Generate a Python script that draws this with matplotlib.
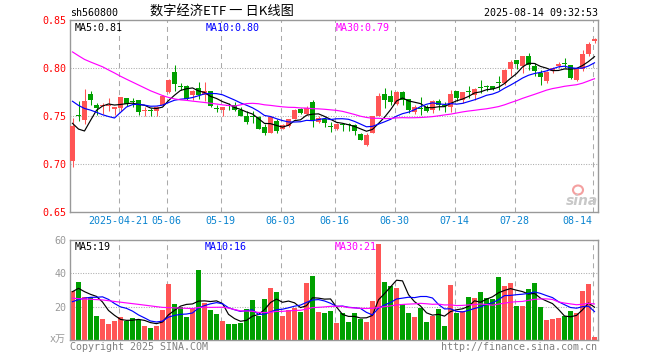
import numpy as np
import pandas as pd
import matplotlib
matplotlib.use('Agg')
import matplotlib.pyplot as plt
from matplotlib.patches import Ellipse

plt.rcParams['lines.scale_dashes'] = False

# ---------------- data ----------------
open_ = [0.703, 0.751, 0.7455, 0.773, 0.7615, 0.760, 0.760, 0.757, 0.758, 0.769,
         0.765, 0.7663, 0.755, 0.756, 0.7549, 0.7608, 0.775, 0.7958, 0.781, 0.7816,
         0.7722, 0.7792, 0.7722, 0.7764, 0.7575, 0.7559, 0.761, 0.7615, 0.7566, 0.7503,
         0.7492, 0.749, 0.7382, 0.7316, 0.7444, 0.7365, 0.7392, 0.7469, 0.7573, 0.7524,
         0.7642, 0.7434, 0.747, 0.7385, 0.7358, 0.741, 0.7417, 0.740, 0.7306, 0.7201,
         0.7316, 0.7503, 0.7733, 0.7712, 0.7628, 0.7753, 0.7677, 0.7538, 0.7576, 0.7594,
         0.7559, 0.7653, 0.7603, 0.7594, 0.7757, 0.7663, 0.775, 0.7722, 0.7793, 0.7803,
         0.7816, 0.7845, 0.7844, 0.799, 0.8087, 0.8024, 0.8128, 0.8024, 0.7948, 0.7861,
         0.7965, 0.8024, 0.8047, 0.8035, 0.7872, 0.799, 0.8149, 0.8278]
high = [0.748, 0.765, 0.778, 0.776, 0.7635, 0.763, 0.769, 0.7594, 0.770, 0.769,
        0.769, 0.767, 0.759, 0.758, 0.760, 0.7722, 0.788, 0.8035, 0.7844, 0.7827,
        0.7774, 0.785, 0.785, 0.7764, 0.7608, 0.7594, 0.7635, 0.7642, 0.7594, 0.7549,
        0.7549, 0.7503, 0.741, 0.7503, 0.7462, 0.742, 0.7469, 0.7573, 0.7583, 0.760,
        0.7663, 0.7503, 0.749, 0.7434, 0.7427, 0.7427, 0.7427, 0.742, 0.7323, 0.7316,
        0.7503, 0.774, 0.7792, 0.7774, 0.7757, 0.7757, 0.7677, 0.7608, 0.7698, 0.7608,
        0.7663, 0.7677, 0.7642, 0.7767, 0.7757, 0.7747, 0.7816, 0.7788, 0.7878, 0.7827,
        0.7816, 0.792, 0.799, 0.8087, 0.8087, 0.8128, 0.8156, 0.8052, 0.7983, 0.7965,
        0.801, 0.8059, 0.8104, 0.8035, 0.799, 0.8184, 0.8267, 0.8312]
low = [0.697, 0.745, 0.741, 0.761, 0.7514, 0.752, 0.755, 0.751, 0.755, 0.760,
       0.759, 0.7514, 0.7496, 0.7496, 0.7496, 0.760, 0.774, 0.7757, 0.7774, 0.767,
       0.767, 0.7677, 0.7653, 0.7594, 0.7538, 0.7496, 0.7559, 0.7549, 0.7496, 0.741,
       0.7427, 0.7358, 0.7295, 0.7316, 0.7316, 0.7358, 0.7385, 0.7462, 0.7524, 0.7514,
       0.7382, 0.7427, 0.7382, 0.733, 0.735, 0.734, 0.734, 0.7295, 0.7246, 0.7184,
       0.7316, 0.7496, 0.7583, 0.7618, 0.7618, 0.7618, 0.7531, 0.7524, 0.7514, 0.7538,
       0.7531, 0.7559, 0.7538, 0.7538, 0.7653, 0.7629, 0.7688, 0.7663, 0.774, 0.7757,
       0.7767, 0.7774, 0.7826, 0.7913, 0.799, 0.7948, 0.7983, 0.7913, 0.7826, 0.7844,
       0.7948, 0.7996, 0.7996, 0.7885, 0.7861, 0.7965, 0.8122, 0.826]
close = [0.739, 0.750, 0.765, 0.767, 0.758, 0.761, 0.761, 0.7594, 0.770, 0.762,
         0.764, 0.7538, 0.7556, 0.7555, 0.7594, 0.7712, 0.7878, 0.7837, 0.7805, 0.768,
         0.7757, 0.7722, 0.7757, 0.760, 0.757, 0.7594, 0.7605, 0.7566, 0.7503, 0.7434,
         0.7488, 0.7365, 0.7316, 0.749, 0.734, 0.740, 0.7462, 0.7559, 0.7531, 0.758,
         0.7455, 0.7479, 0.7427, 0.738, 0.742, 0.7406, 0.7403, 0.734, 0.7253, 0.7295,
         0.7503, 0.7712, 0.7663, 0.7642, 0.7753, 0.7663, 0.7559, 0.7594, 0.757, 0.7549,
         0.7653, 0.7608, 0.760, 0.7733, 0.7688, 0.7747, 0.7745, 0.7781, 0.779, 0.780,
         0.7781, 0.784, 0.7976, 0.8059, 0.8045, 0.8128, 0.8035, 0.7965, 0.7906, 0.7955,
         0.7996, 0.8045, 0.8045, 0.7896, 0.799, 0.8149, 0.8253, 0.8302]
# closes of the 29 sessions before the first visible one (feed the moving averages)
prior_close = [0.870, 0.879, 0.848, 0.833, 0.836, 0.860, 0.855, 0.872, 0.855, 0.854,
               0.844, 0.846, 0.846, 0.834, 0.846, 0.848, 0.829, 0.811, 0.783, 0.800,
               0.793, 0.797, 0.784, 0.781, 0.786, 0.780, 0.775, 0.712, 0.705]

volume = [29.4, 35, 26, 26, 14.4, 12.6, 9.6, 11.4, 13.8, 11.6,
          13, 12, 8.4, 7.2, 8.4, 18, 33.6, 21.6, 20, 13.6,
          19.4, 42, 22.4, 18, 15.6, 11.4, 9.6, 9.6, 10, 18.4,
          24, 14.4, 24.4, 31.2, 28.8, 14.4, 18, 19.2, 16.8, 34.4,
          38.4, 16.8, 16.2, 17.4, 10.2, 16.2, 10.8, 16.2, 12.6, 10.8,
          23.4, 57.6, 34.8, 32.4, 31.2, 21.4, 16.2, 13.8, 19.4, 10.8,
          14.4, 18.6, 8.4, 33, 16.2, 17.4, 25.8, 25.2, 28.8, 25.2,
          24.6, 37.8, 32.4, 34.2, 20.4, 20.4, 30.6, 34.2, 19.8, 12,
          12.6, 13.2, 14.4, 17.4, 16.2, 29.4, 33.6, 1.8]
prior_volume = [41, 32, 32, 20, 19, 23, 25, 27, 25, 26,
                25, 22, 21, 22, 31, 38, 26, 24, 18, 24,
                23, 17, 21, 14, 10, 25, 36, 34, 20.6]

tick_idx = [8, 16, 25, 35, 44, 54, 64, 74, 87]
tick_labels = ['2025-04-21', '05-06', '05-19', '06-03', '06-16', '06-30',
               '07-14', '07-28', '08-14']

price_ticks = [0.65, 0.70, 0.75, 0.80, 0.85]
vol_ticks = [20, 40, 60]

title = '数字经济ETF 一 日K线图'
code = 'sh560800'
stamp = '2025-08-14 09:32:53'
price_ma_labels = ['MA5:0.81', 'MA10:0.80', 'MA30:0.79']
vol_ma_labels = ['MA5:19', 'MA10:16', 'MA30:21']

# ---------------- styling ----------------
RED = '#FF5555'
GREEN = '#00A000'
MA_COLORS = ['#000000', '#0000FF', '#FF00FF']
GRID = '#AAAAAA'
SPINE = '#999999'
MONO = 'DejaVu Sans Mono'
FS = 7.2

W, H = 660, 360
fig = plt.figure(figsize=(6.6, 3.6), dpi=100)
fig.patch.set_facecolor('white')


def fx(px):
    return px / W


def fy(py):
    return 1 - py / H


L, R = 70, 598
ax = fig.add_axes([fx(L), fy(211.7), (R - L) / W, (211.7 - 20) / H])
axv = fig.add_axes([fx(L), fy(340), (R - L) / W, 100 / H])

o = np.array(open_); h = np.array(high); lo = np.array(low); c = np.array(close)
v = np.array(volume)
n = len(c)
x = np.arange(n)
up = c >= o
cols = np.where(up, RED, GREEN)

xmin = -2.5 / 6
xmax = xmin + n
slot_start = np.array(tick_idx) + xmin + 0.1

for a in (ax, axv):
    a.set_xlim(xmin, xmax)
    for s in a.spines.values():
        s.set_color(SPINE)
        s.set_linewidth(1.0)
    for t in slot_start:
        a.axvline(t, color=GRID, lw=0.75, dashes=(3.6, 2.9), zorder=0)
    a.set_xticks([])
    a.tick_params(axis='y', length=0, pad=2.6, labelsize=FS)

# --- price panel ---
ax.set_ylim(0.65, 0.85)
for g in [0.70, 0.75, 0.80]:
    ax.axhline(g, color=GRID, lw=0.75, dashes=(0.72, 1.1), zorder=0)
ax.vlines(x, lo, h, colors=cols, lw=0.75, zorder=2)
body_b = np.minimum(o, c)
body_h = np.maximum(np.abs(c - o), 0.0011)
ax.bar(x, body_h, bottom=body_b, width=0.83, color=cols, linewidth=0, zorder=3)

all_c = pd.Series(np.concatenate([prior_close, c]))
k0 = len(prior_close)
for win, col in zip([5, 10, 30], MA_COLORS):
    ma = all_c.rolling(win).mean().values[k0:]
    ax.plot(x, ma, color=col, lw=0.85, zorder=4)

ax.set_yticks(price_ticks)
ax.set_yticklabels(['%.2f' % t for t in price_ticks], color='#FF0000', family=MONO)

for t, lab in zip(tick_idx, tick_labels):
    ha = 'center'
    xx = t + xmin + 0.1
    if t == tick_idx[-1]:
        ha = 'right'
        xx = t + xmin
    ax.text(xx, -0.048, lab, transform=ax.get_xaxis_transform(), ha=ha, va='center',
            color='#0A84D0', fontsize=FS, family=MONO, clip_on=False)

# --- volume panel ---
axv.set_ylim(0, 60)
for g in [20, 40]:
    axv.axhline(g, color=GRID, lw=0.75, dashes=(0.72, 1.1), zorder=0)
axv.bar(x, v, width=0.83, color=cols, linewidth=0, zorder=2)
all_v = pd.Series(np.concatenate([prior_volume, v]))
kv = len(prior_volume)
for win, col in zip([5, 10, 30], MA_COLORS):
    ma = all_v.rolling(win).mean().values[kv:]
    axv.plot(x, ma, color=col, lw=0.85, zorder=4)
axv.set_yticks(vol_ticks)
axv.set_yticklabels([str(t) for t in vol_ticks], color='#999999', family=MONO)
fig.text(fx(66), fy(339), 'x万', ha='right', va='center', color='#999999',
         fontsize=FS, family=['DejaVu Sans Mono', 'Noto Sans CJK SC'])

# --- header / legends ---
fig.text(fx(70), fy(12.5), code, ha='left', va='center', fontsize=FS, family=MONO)
fig.text(fx(150), fy(12.5), title, ha='left', va='center', fontsize=9.5,
         family=['Noto Sans CJK SC', 'DejaVu Sans'])
fig.text(fx(598), fy(12.5), stamp, ha='right', va='center', fontsize=FS, family=MONO)

for lab, col, px in zip(price_ma_labels, MA_COLORS, [75, 206, 336]):
    fig.text(fx(px), fy(28), lab, ha='left', va='center', color=col, fontsize=FS, family=MONO)
for lab, col, px in zip(vol_ma_labels, MA_COLORS, [75, 205, 335]):
    fig.text(fx(px), fy(246.5), lab, ha='left', va='center', color=col, fontsize=FS, family=MONO)

fig.text(fx(70), fy(347), 'Copyright 2025 SINA.COM', ha='left', va='center',
         color='#808080', fontsize=FS, family=MONO)
fig.text(fx(597), fy(347), 'http://finance.sina.com.cn', ha='right', va='center',
         color='#808080', fontsize=FS, family=MONO)

# sina watermark
fig.patches.append(Ellipse((fx(578), fy(190)), 10 / W, 9 / H, transform=fig.transFigure,
                           facecolor='none', edgecolor='#F4A0A0', lw=1.5))
fig.text(fx(582), fy(201), 'sina', ha='center', va='center', color='#C8C8C8',
         fontsize=10, fontweight='bold', style='italic', family='DejaVu Sans')

fig.savefig('out.png', dpi=100)
